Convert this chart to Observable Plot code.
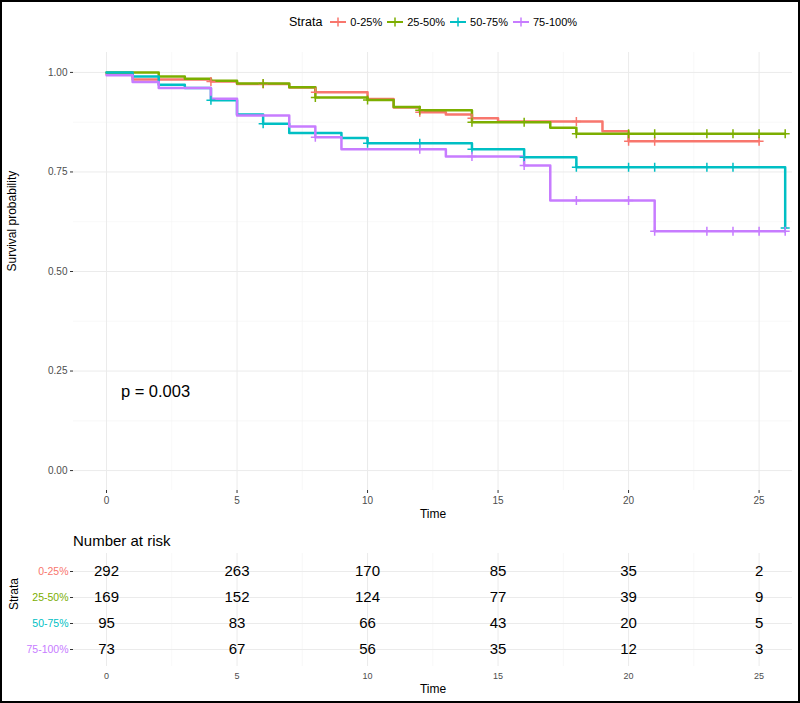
<!DOCTYPE html>
<html><head><meta charset="utf-8">
<script src="https://cdn.jsdelivr.net/npm/d3@7"></script>
<script src="https://cdn.jsdelivr.net/npm/@observablehq/plot@0.6"></script>
<style>
body{margin:0;background:#fff;font-family:"Liberation Sans",Arial,Helvetica,sans-serif;}
#wrap{position:relative;width:800px;height:703px;overflow:hidden;background:#fff;}
#frame{position:absolute;left:0;top:0;width:800px;height:703px;box-sizing:border-box;border:2px solid #000;pointer-events:none;}
#legend{position:absolute;left:289px;top:12px;height:20px;display:flex;align-items:center;color:#000;white-space:nowrap;}
#legend .ttl{font-size:12.5px;margin-right:8px;}
#legend .lab{font-size:11px;margin-left:4px;margin-right:5px;}
#legend svg{display:block;}
#main{position:absolute;left:0;top:40px;}
#risk{position:absolute;left:0;top:528px;}
#risktitle{position:absolute;left:73px;top:532px;font-size:15px;color:#000;z-index:2;}
</style></head>
<body><div id="wrap">
<div id="legend"></div>
<div id="main"></div>
<div id="risk"></div>
<div id="risktitle">Number at risk</div>
<div id="frame"></div>
</div>
<script>
// ---- data ----
const strata = ["0-25%", "25-50%", "50-75%", "75-100%"];
const strataColors = ["#F8766D", "#7CAE00", "#00BFC4", "#C77CFF"];

const time_0_25 = [0, 1, 4, 5, 7, 8, 10, 11, 12, 13, 14, 15, 19, 20, 25];
const surv_0_25 = [0.996, 0.982, 0.977, 0.971, 0.962, 0.950, 0.933, 0.912, 0.900, 0.894, 0.885, 0.877, 0.852, 0.827, 0.827];
const cens_0_25 = [4, 6, 8, 12, 14, 18, 20, 21, 25];

const time_25_50 = [0, 2, 3, 4, 5, 7, 8, 10, 11, 12, 14, 17, 18, 26];
const surv_25_50 = [1.0, 0.990, 0.984, 0.979, 0.972, 0.963, 0.937, 0.931, 0.913, 0.905, 0.875, 0.861, 0.846, 0.846];
const cens_25_50 = [6, 8, 10, 12, 14, 16, 18, 20, 21, 23, 24, 25, 26];

const time_50_75 = [0, 1, 2, 3, 4, 5, 6, 7, 9, 10, 14, 16, 18, 26];
const surv_50_75 = [1.0, 0.990, 0.969, 0.961, 0.930, 0.894, 0.871, 0.848, 0.835, 0.822, 0.807, 0.787, 0.762, 0.609];
const cens_50_75 = [4, 6, 10, 12, 14, 16, 18, 20, 21, 23, 24, 26];

const time_75_100 = [0, 1, 2, 4, 5, 7, 8, 9, 13, 16, 17, 21, 26];
const surv_75_100 = [0.993, 0.976, 0.961, 0.934, 0.892, 0.864, 0.837, 0.807, 0.789, 0.766, 0.678, 0.601, 0.601];
const cens_75_100 = [8, 12, 14, 16, 18, 20, 21, 23, 24, 25, 26];

const pValueLabel = "p = 0.003";

const xTicks = [0, 5, 10, 15, 20, 25];
const yTicks = [0, 0.25, 0.5, 0.75, 1];

const riskTimes = [0, 5, 10, 15, 20, 25];
const risk_0_25 = [292, 263, 170, 85, 35, 2];
const risk_25_50 = [169, 152, 124, 77, 39, 9];
const risk_50_75 = [95, 83, 66, 43, 20, 5];
const risk_75_100 = [73, 67, 56, 35, 12, 3];

// ---- build tables ----
const series = [
  [strata[0], time_0_25, surv_0_25, cens_0_25],
  [strata[1], time_25_50, surv_25_50, cens_25_50],
  [strata[2], time_50_75, surv_50_75, cens_50_75],
  [strata[3], time_75_100, surv_75_100, cens_75_100]
];
const curveData = [];
const censorData = [];
for (const [s, ts, ss, cs] of series) {
  ts.forEach((t, i) => curveData.push({strata: s, time: t, surv: ss[i]}));
  cs.forEach(c => {
    let idx = 0;
    for (let i = 0; i < ts.length; i++) if (ts[i] <= c) idx = i;
    censorData.push({strata: s, time: c, surv: ss[idx]});
  });
}
const riskRows = [risk_0_25, risk_25_50, risk_50_75, risk_75_100];
const riskData = [];
riskRows.forEach((row, j) => row.forEach((n, i) => riskData.push({strata: strata[j], time: riskTimes[i], n})));

const xMinor = xTicks.map(d => d + 2.5).filter(d => d < 26.3);
const yMinor = yTicks.slice(0, -1).map(d => d + 0.125);

const plusSymbol = {
  draw(ctx, size) {
    const r = Math.sqrt(size / Math.PI);
    ctx.moveTo(-r, 0); ctx.lineTo(r, 0);
    ctx.moveTo(0, -r); ctx.lineTo(0, r);
  }
};

const xDomain = [-1.265, 26.28];
const font = '"Liberation Sans", Arial, Helvetica, sans-serif';
const gridMajor = {stroke: "#ebebeb", strokeOpacity: 1, strokeWidth: 1};
const gridMinor = {stroke: "#f3f3f3", strokeOpacity: 1, strokeWidth: 0.6};

// ---- legend ----
const legend = document.getElementById("legend");
legend.innerHTML = '<span class="ttl">Strata</span>' + strata.map((s, i) =>
  `<svg width="16" height="12"><line x1="0" y1="6" x2="16" y2="6" stroke="${strataColors[i]}" stroke-width="2"/><line x1="8" y1="1.5" x2="8" y2="10.5" stroke="${strataColors[i]}" stroke-width="1.5"/></svg><span class="lab">${s}</span>`
).join("");

// ---- main chart ----
const main = Plot.plot({
  width: 800, height: 488,
  marginLeft: 73, marginRight: 8, marginTop: 12, marginBottom: 38,
  x: {domain: xDomain},
  y: {domain: [-0.05, 1.05]},
  color: {domain: strata, range: strataColors},
  style: {fontFamily: font, fontSize: "10px", background: "white", color: "#000"},
  marks: [
    Plot.gridX(xMinor, gridMinor),
    Plot.gridY(yMinor, gridMinor),
    Plot.gridX(xTicks, gridMajor),
    Plot.gridY(yTicks, gridMajor),
    Plot.axisY(yTicks, {tickSize: 3, tickPadding: 3, tickFormat: d3.format(".2f"), label: null, fill: "#4d4d4d", stroke: "#333", fontSize: 10}),
    Plot.axisX(xTicks, {tickSize: 3, tickPadding: 3, label: null, fill: "#4d4d4d", stroke: "#333", fontSize: 10}),
    Plot.line(curveData, {x: "time", y: "surv", z: "strata", stroke: "strata", strokeWidth: 2.5, curve: "step-after"}),
    Plot.dot(censorData, {x: "time", y: "surv", stroke: "strata", symbol: plusSymbol, r: 4.5, strokeWidth: 1.5, fill: "none"}),
    Plot.text([pValueLabel], {x: 0.55, y: 0.197, text: d => d, textAnchor: "start", fontSize: 16.5, fill: "#000"}),
    Plot.text(["Time"], {frameAnchor: "bottom", text: d => d, dy: 27, fontSize: 12, fill: "#000"}),
    Plot.text(["Survival probability"], {frameAnchor: "left", text: d => d, dx: -61, rotate: -90, fontSize: 12, fill: "#000"})
  ]
});
document.getElementById("main").appendChild(main);

// ---- risk table ----
const risk = Plot.plot({
  width: 800, height: 175,
  marginLeft: 73, marginRight: 8, marginTop: 25, marginBottom: 37,
  x: {domain: xDomain},
  y: {type: "point", domain: strata, padding: 0.6},
  color: {domain: strata, range: strataColors},
  style: {fontFamily: font, fontSize: "10px", background: "transparent", color: "#000"},
  marks: [
    Plot.gridX(xMinor, gridMinor),
    Plot.gridX(xTicks, gridMajor),
    Plot.gridY(strata, gridMajor),
    Plot.axisY(strata, {tickSize: 3, tickFormat: () => "", label: null, stroke: "#333"}),
    Plot.text(strata, {frameAnchor: "left", y: d => d, text: d => d, dx: -5, textAnchor: "end", fill: d => d, fontSize: 10.5}),
    Plot.axisX(xTicks, {tickSize: 0, tickPadding: 6, label: null, fill: "#4d4d4d", fontSize: 9}),
    Plot.text(riskData, {x: "time", y: "strata", text: "n", fontSize: 15, fill: "#000"}),
    Plot.text(["Time"], {frameAnchor: "bottom", text: d => d, dy: 26, fontSize: 12, fill: "#000"}),
    Plot.text(["Strata"], {frameAnchor: "left", text: d => d, dx: -59, rotate: -90, fontSize: 12, fill: "#000"})
  ]
});
document.getElementById("risk").appendChild(risk);
</script>
</body></html>
